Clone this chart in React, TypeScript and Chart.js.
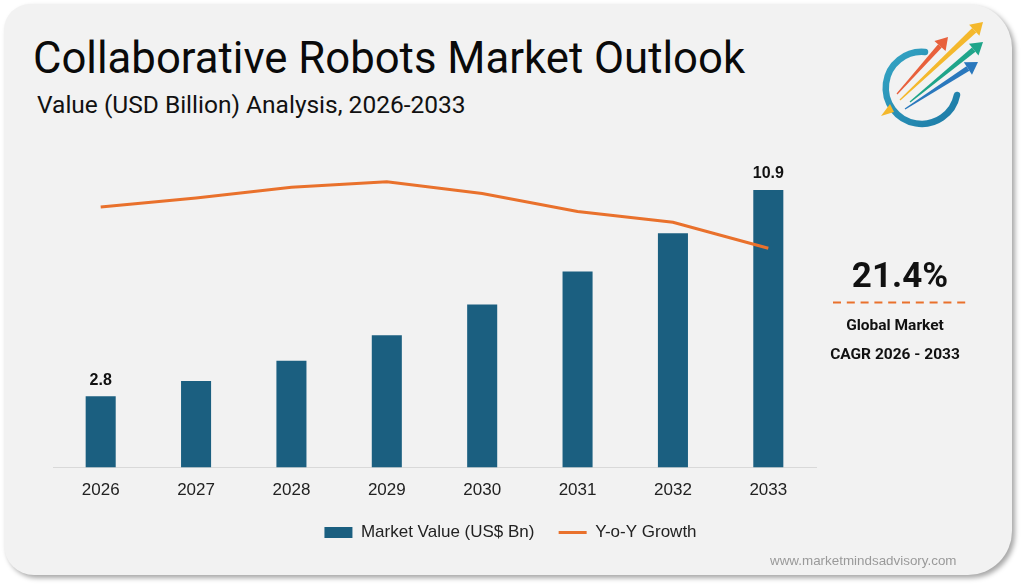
import React, { useEffect, useRef } from 'react';
import { Chart, registerables } from 'chart.js';

Chart.register(...registerables);

const categories = ['2026', '2027', '2028', '2029', '2030', '2031', '2032', '2033'];
const marketValue = [2.8, 3.4, 4.2, 5.2, 6.4, 7.7, 9.2, 10.9];
const yoyGrowth = [21.0, 21.5, 22.1, 22.4, 21.75, 20.75, 20.15, 18.7];
const labeledBars = [0, 7];
const seriesNames = ['Market Value (US$ Bn)', 'Y-o-Y Growth'];

const BAR = '#1b5f80';
const LINE = '#e9712c';
const FONT = "'Liberation Sans', Arial, sans-serif";

const barLabelPlugin = {
  id: 'barLabels',
  afterDatasetsDraw(chart: any) {
    const meta = chart.getDatasetMeta(0);
    const ctx = chart.ctx;
    ctx.save();
    ctx.font = `bold 16px ${FONT}`;
    ctx.fillStyle = '#111';
    ctx.textAlign = 'center';
    ctx.textBaseline = 'bottom';
    labeledBars.forEach((i) => {
      const el = meta.data[i];
      if (!el) return;
      ctx.fillText(String(marketValue[i]), el.x, el.y - 8);
    });
    ctx.restore();
  },
};

function ChartCanvas() {
  const ref = useRef<HTMLCanvasElement | null>(null);
  useEffect(() => {
    if (!ref.current) return;
    const chart = new Chart(ref.current, {
      type: 'bar',
      data: {
        labels: categories,
        datasets: [
          {
            type: 'bar',
            label: seriesNames[0],
            data: marketValue,
            backgroundColor: BAR,
            borderWidth: 0,
            barPercentage: 0.315,
            categoryPercentage: 1,
            yAxisID: 'y',
            order: 1,
          },
          {
            type: 'line',
            label: seriesNames[1],
            data: yoyGrowth,
            borderColor: LINE,
            backgroundColor: LINE,
            borderWidth: 3,
            pointRadius: 0,
            tension: 0,
            yAxisID: 'y1',
            order: 0,
          },
        ] as any,
      },
      options: {
        animation: false,
        responsive: false,
        maintainAspectRatio: false,
        layout: { padding: { top: 12, left: 13, right: 0, bottom: 0 } },
        font: { family: FONT },
        scales: {
          x: {
            grid: { display: false, drawTicks: false },
            border: { display: true, color: '#d9d9d9', width: 1 },
            ticks: { color: '#222', font: { family: FONT, size: 17 }, padding: 13 },
          },
          y: {
            display: false,
            min: 0,
            max: 12,
          },
          y1: {
            display: true,
            position: 'right',
            min: 6.5,
            max: 23.5,
            grid: { display: false, drawTicks: false },
            border: { display: false },
            ticks: { display: false },
            afterFit: (s: any) => {
              s.width = 152;
            },
          },
        },
        plugins: {
          tooltip: { enabled: false },
          legend: {
            display: true,
            position: 'bottom',
            labels: {
              usePointStyle: true,
              pointStyleWidth: 28,
              boxHeight: 11,
              padding: 10,
              color: '#222',
              font: { family: FONT, size: 17 },
              generateLabels: (c: any) => {
                const items = (Chart.defaults.plugins.legend.labels as any).generateLabels(c);
                return items
                  .map((it: any) =>
                    it.datasetIndex === 0
                      ? {
                          ...it,
                          text: it.text + '   ',
                          pointStyle: 'rect',
                          fillStyle: BAR,
                          strokeStyle: BAR,
                          lineWidth: 0,
                        }
                      : { ...it, pointStyle: 'line', fillStyle: LINE, strokeStyle: LINE, lineWidth: 3 }
                  )
                  .sort((a: any, b: any) => a.datasetIndex - b.datasetIndex);
              },
            },
          },
        },
      } as any,
      plugins: [barLabelPlugin],
    });
    return () => chart.destroy();
  }, []);
  return (
    <canvas
      ref={ref}
      width={928}
      height={401}
      style={{ position: 'absolute', left: 40, top: 150, width: 928, height: 401 }}
    />
  );
}

function Logo() {
  const arrow = (x1: number, y1: number, x2: number, y2: number, color: string, w: number) => {
    const ang = Math.atan2(y2 - y1, x2 - x1);
    const hl = 12;
    const hw = 7.5;
    const bx = x2 - Math.cos(ang) * hl;
    const by = y2 - Math.sin(ang) * hl;
    const px = -Math.sin(ang);
    const py = Math.cos(ang);
    const shaft = `${x1 + px * 0.6},${y1 + py * 0.6} ${bx + px * w / 2},${by + py * w / 2} ${bx - px * w / 2},${by - py * w / 2} ${x1 - px * 0.6},${y1 - py * 0.6}`;
    const head = `${x2},${y2} ${bx + px * hw},${by + py * hw} ${bx - px * hw},${by - py * hw}`;
    return (
      <g>
        <polygon points={shaft} fill={color} />
        <polygon points={head} fill={color} />
      </g>
    );
  };
  return (
    <g>
      <defs>
        <linearGradient id="ringg" x1="0" y1="0" x2="1" y2="1">
          <stop offset="0" stopColor="#35a5c4" />
          <stop offset="1" stopColor="#1c7aa6" />
        </linearGradient>
      </defs>
      <path
        d="M 925 52 A 36 36 0 1 0 957 95"
        fill="none"
        stroke="url(#ringg)"
        strokeWidth={6.5}
        strokeLinecap="round"
      />
      {arrow(897, 94, 948, 37, '#e8603c', 5)}
      {arrow(900, 100, 983, 22, '#f4b82c', 6)}
      {arrow(910, 102, 983, 42, '#1fa58a', 5.5)}
      {arrow(905, 109, 978, 62, '#2a78bd', 5.5)}
      <polygon points="881,116 890,104 894,112" fill="#f4b82c" />
    </g>
  );
}

export default function App() {
  return (
    <div
      style={{
        position: 'absolute',
        left: 0,
        top: 0,
        width: 1024,
        height: 585,
        background: '#ffffff',
        overflow: 'hidden',
      }}
    >
      <div
        style={{
          position: 'absolute',
          left: 4,
          top: 4,
          width: 1008,
          height: 571,
          background: '#f2f2f2',
          borderRadius: '26px 44px 44px 30px',
          boxShadow: '3px 3px 5px rgba(0,0,0,0.35)',
        }}
      />
      <div
        style={{
          position: 'absolute',
          left: 33,
          top: 36.5,
          fontFamily: 'Roboto, sans-serif',
          fontSize: 43.7,
          lineHeight: 1,
          color: '#0a0a0a',
          whiteSpace: 'nowrap',
        }}
      >
        Collaborative Robots Market Outlook
      </div>
      <div
        style={{
          position: 'absolute',
          left: 37,
          top: 93.4,
          fontFamily: 'Roboto, sans-serif',
          fontSize: 24.5,
          lineHeight: 1,
          color: '#111',
          whiteSpace: 'nowrap',
        }}
      >
        Value (USD Billion) Analysis, 2026-2033
      </div>
      <ChartCanvas />
      <svg
        width={1024}
        height={585}
        style={{ position: 'absolute', left: 0, top: 0, pointerEvents: 'none' }}
      >
        <Logo />
        <line x1={833} y1={302.5} x2={968} y2={302.5} stroke={LINE} strokeWidth={2.2} strokeDasharray="8 5.8" />
      </svg>
      <div
        style={{
          position: 'absolute',
          left: 800,
          width: 200,
          top: 257.6,
          textAlign: 'center',
          fontFamily: 'Roboto, sans-serif',
          fontWeight: 700,
          fontSize: 35,
          lineHeight: 1,
          color: '#111',
        }}
      >
        21.4%
      </div>
      <div
        style={{
          position: 'absolute',
          left: 795,
          width: 200,
          top: 318,
          textAlign: 'center',
          fontFamily: 'Roboto, sans-serif',
          fontWeight: 700,
          fontSize: 15.5,
          lineHeight: 1,
          color: '#111',
        }}
      >
        Global Market
      </div>
      <div
        style={{
          position: 'absolute',
          left: 795,
          width: 200,
          top: 347,
          textAlign: 'center',
          fontFamily: 'Roboto, sans-serif',
          fontWeight: 700,
          fontSize: 15.5,
          lineHeight: 1,
          color: '#111',
        }}
      >
        CAGR 2026 - 2033
      </div>
      <div
        style={{
          position: 'absolute',
          left: 770,
          top: 554,
          fontFamily: "'Liberation Sans', Arial, sans-serif",
          fontSize: 13.4,
          lineHeight: 1,
          color: '#9a9a9a',
          whiteSpace: 'nowrap',
        }}
      >
        www.marketmindsadvisory.com
      </div>
    </div>
  );
}
